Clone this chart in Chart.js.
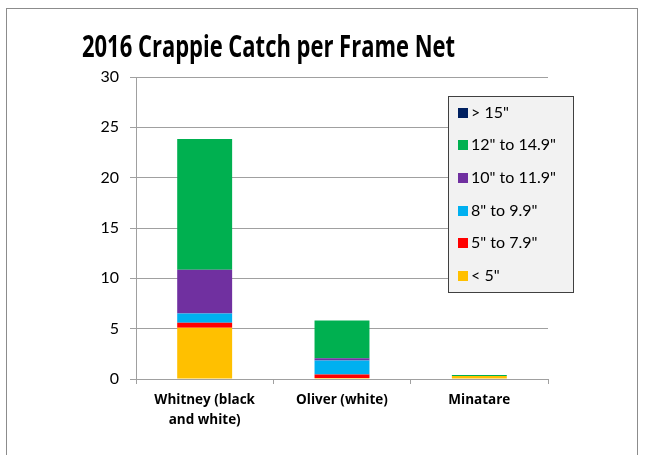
<!DOCTYPE html>
<html>
<head>
<meta charset="utf-8">
<script src="https://cdn.jsdelivr.net/npm/chart.js"></script>
<style>
  html,body{margin:0;padding:0;background:#fff}
  #wrap{position:relative;width:645px;height:455px;overflow:hidden}
  #frame{position:absolute;left:6px;top:8px;width:632px;height:470px;border:1px solid #8c8c8c;box-sizing:border-box}
  canvas{position:absolute;left:0;top:0}
</style>
</head>
<body>
<div id="wrap">
  <div id="frame"></div>
  <canvas id="c" width="645" height="455"></canvas>
</div>
<script>
/* ===== data ===== */
const categories = [['Whitney (black', 'and white)'], 'Oliver (white)', 'Minatare'];
const seriesNames = ['< 5"', '5" to 7.9"', '8" to 9.9"', '10" to 11.9"', '12" to 14.9"', '> 15"'];
const under5    = [5.1, 0.1, 0.3];
const s5to79    = [0.5, 0.35, 0];
const s8to99    = [0.9, 1.4, 0];
const s10to119  = [4.35, 0.2, 0];
const s12to149  = [13.0, 3.75, 0.1];
const over15    = [0, 0, 0];
const seriesColors = ['#FFC000', '#FF0000', '#00B0F0', '#7030A0', '#00B050', '#002060'];
const yTicks = [0, 5, 10, 15, 20, 25, 30];

const FONT = 'Lato, "Open Sans", sans-serif';
const allSeries = [under5, s5to79, s8to99, s10to119, s12to149, over15];

/* ===== title + boxed legend drawn on canvas ===== */
const decor = {
  id: 'decor',
  afterDraw(chart) {
    const ctx = chart.ctx;
    // title, squeezed to the width of the Calibri original
    ctx.save();
    ctx.font = 'bold 30px "Open Sans", sans-serif';
    ctx.fillStyle = '#000';
    ctx.textBaseline = 'alphabetic';
    const txt = '2016 Crappie Catch per Frame Net';
    const w = ctx.measureText(txt).width;
    const target = 373;
    ctx.translate(268.5, 57);
    ctx.scale(target / w, 1);
    ctx.textAlign = 'center';
    ctx.fillText(txt, 0, 0);
    ctx.restore();

    // legend box (top series first, like Excel)
    const bx = 448, by = 96, bw = 125, bh = 196;
    ctx.save();
    ctx.fillStyle = '#f2f2f2';
    ctx.fillRect(bx, by, bw, bh);
    ctx.strokeStyle = '#404040';
    ctx.lineWidth = 1;
    ctx.strokeRect(bx + 0.5, by + 0.5, bw, bh);
    ctx.font = '16px ' + FONT;
    ctx.textBaseline = 'middle';
    ctx.textAlign = 'left';
    const ds = chart.data.datasets.slice().reverse();
    ds.forEach((d, i) => {
      const cy = 112.5 + i * 32.7;
      ctx.fillStyle = d.backgroundColor;
      ctx.fillRect(458, Math.round(cy - 5), 10, 10);
      ctx.fillStyle = '#000';
      ctx.fillText(d.label, 471, cy);
    });
    ctx.restore();
  }
};

new Chart(document.getElementById('c'), {
  type: 'bar',
  data: {
    labels: categories,
    datasets: seriesNames.map((n, i) => ({
      label: n,
      data: allSeries[i],
      backgroundColor: seriesColors[i],
      borderWidth: 0,
      categoryPercentage: 0.4,
      barPercentage: 1
    }))
  },
  options: {
    responsive: false,
    animation: false,
    layout: { padding: { left: 0, top: 77, right: 97, bottom: 0 } },
    plugins: { legend: { display: false }, title: { display: false }, tooltip: { enabled: false } },
    scales: {
      x: {
        stacked: true,
        afterFit: s => { s.height = 76; },
        grid: { display: true, drawOnChartArea: false, drawTicks: true, tickLength: 5, offset: true, color: '#a0a0a0' },
        border: { color: '#a0a0a0' },
        ticks: { color: '#000', padding: 6, font: { family: '"Open Sans", sans-serif', size: 13.5, weight: 'bold', lineHeight: 1.5 }, maxRotation: 0 }
      },
      y: {
        stacked: true,
        min: 0, max: 30,
        afterFit: s => { s.width = 136; },
        afterBuildTicks: s => { s.ticks = yTicks.map(v => ({ value: v })); },
        grid: { color: '#a0a0a0', tickLength: 6, drawTicks: true },
        border: { color: '#a0a0a0' },
        ticks: { color: '#000', padding: 11, font: { family: FONT, size: 16 } }
      }
    }
  },
  plugins: [decor]
});
</script>
</body>
</html>
